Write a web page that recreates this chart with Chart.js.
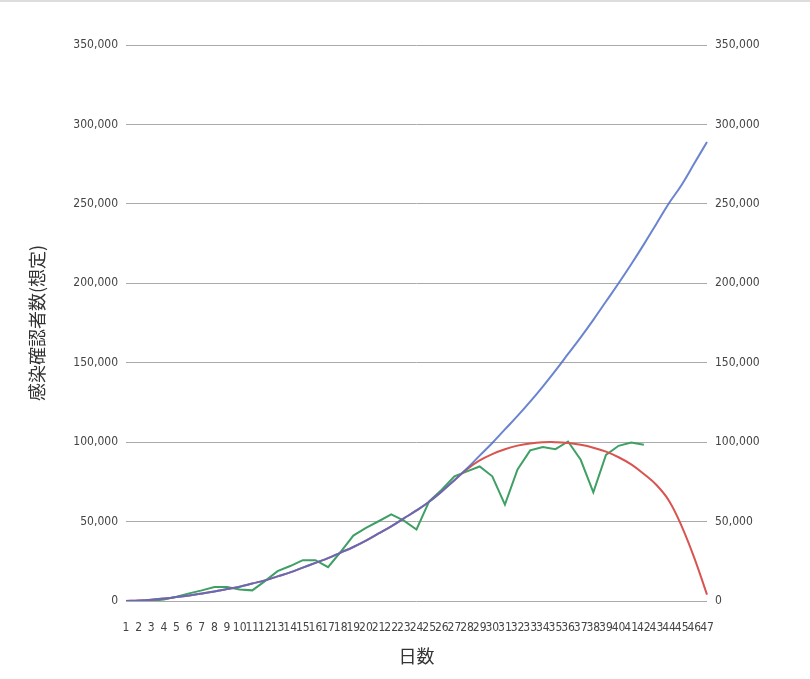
<!DOCTYPE html><html><head><meta charset="utf-8">
<script src="https://cdn.jsdelivr.net/npm/chart.js@4"></script>
<style>html,body{margin:0;padding:0;background:#fff}#w{width:810px;height:679px;position:relative;border-top:2px solid #ddd;box-sizing:border-box}</style></head><body>
<div id="w"><canvas id="c"></canvas></div>
<script>
const days = Array.from({length:47},(_,i)=>String(i+1));
const projected = [0,300,800,1500,2500,3500,4700,6000,7500,9000,11000,13000,15500,18000,21000,24000,27000,30500,34000,38000,42500,47000,52000,57000,62500,69000,76000,83500,91500,99500,108000,116500,125500,135000,145000,155500,166000,177000,188500,200000,212000,224500,237500,250500,262000,275500,289000];
const adjusted = [0,300,800,1500,2500,3500,4700,6000,7500,9000,11000,13000,15500,18000,21000,24000,27000,30500,34000,38000,42500,47000,52000,57000,62500,69000,76000,83000,88500,92500,95500,97800,99200,99900,100000,99500,98300,96500,94000,90500,86000,80000,73000,63000,47000,27000,4000];
const actual = [0,0,0,1000,2700,4800,6700,8800,8800,7300,6700,12500,18800,22000,25700,25700,21300,31000,41200,46000,50200,54600,50600,45000,62800,70000,78500,81600,84700,78500,60700,82800,94800,96900,95600,100400,88900,68400,92000,97700,99800,98300];
const yTicks = [0,50000,100000,150000,200000,250000,300000,350000];
const fmt = v => v.toLocaleString('en-US');
const tickFont = {family:'"DejaVu Sans Condensed","Liberation Sans Narrow",sans-serif',size:12};
const yAxis = (pos)=>({position:pos,min:0,max:350000,afterBuildTicks:a=>{a.ticks=yTicks.map(v=>({value:v}))},
  ticks:{callback:fmt,color:'#444',font:tickFont,padding:8},
  grid:{display:pos==='left',color:'#aaa',drawTicks:false},border:{display:false},
  title:{display:pos==='left',text:'感染確認者数(想定)',color:'#333',font:{family:'"Noto Sans CJK JP",sans-serif',size:18},padding:0},
  afterFit:s=>{s.width=pos==='left'?100:103}});
new Chart(document.getElementById('c'),{type:'line',
 data:{labels:days,datasets:[
  {data:projected,borderColor:'rgba(80,110,200,0.85)',borderWidth:2,pointRadius:0,tension:0.4,yAxisID:'y'},
  {data:adjusted,borderColor:'#d9534f',borderWidth:2,pointRadius:0,tension:0.4,yAxisID:'y'},
  {data:actual,borderColor:'#3f9f64',borderWidth:2,pointRadius:0,tension:0,yAxisID:'y'}]},
 options:{responsive:true,maintainAspectRatio:false,animation:false,
  layout:{padding:{top:43,left:26,right:0,bottom:0}},
  plugins:{legend:{display:false},tooltip:{enabled:false}},
  scales:{
   x:{offset:false,grid:{display:true,color:'#eee',drawOnChartArea:false,drawTicks:false},border:{display:false},
      ticks:{autoSkip:false,maxRotation:0,color:'#444',font:{family:'"DejaVu Sans Condensed",sans-serif',size:12},padding:20},
      title:{display:true,text:'日数',color:'#333',font:{family:'"Noto Sans CJK JP",sans-serif',size:18},padding:{top:0,bottom:12}},
      afterFit:s=>{s.height=78}},
   y:yAxis('left'),y2:yAxis('right')}}});
</script></body></html>
